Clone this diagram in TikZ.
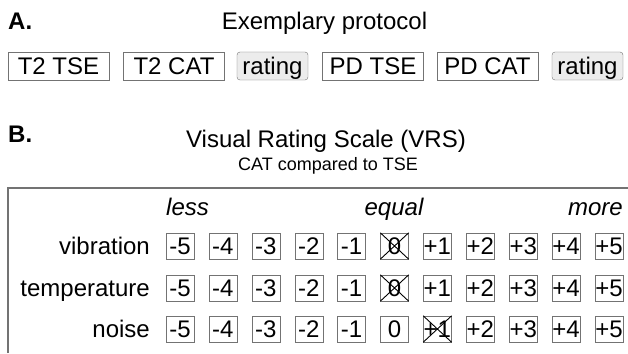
\documentclass[tikz,border=0pt]{standalone}
\usepackage{fontspec}
\setmainfont{Liberation Sans}
\usepackage{xcolor}

\begin{document}
\begin{tikzpicture}[
    x=1pt, y=-1pt,
    txt/.style={
        inner sep=0pt,
        font=\fontsize{24}{28}\selectfont
    },
    scan/.style={
        rectangle,
        draw=black!55,
        fill=white,
        minimum width=101pt,
        minimum height=28pt,
        inner sep=0pt,
        text height=17pt,
        text depth=0pt,
        font=\fontsize{24}{28}\selectfont
    },
    rating/.style={scan, fill=gray!15, rounded corners=3pt, minimum width=71pt},
    score/.style={
        rectangle,
        draw=black!55,
        minimum width=28pt,
        minimum height=26pt,
        inner sep=0pt,
        text height=17pt,
        text depth=0pt,
        font=\fontsize{24}{28}\selectfont
    },
    cross/.style={draw=black, line width=0.9pt}
]
\useasboundingbox (0,0) rectangle (628,353);

% A. protocol
\node[txt, anchor=base west, font=\fontsize{24}{28}\selectfont\bfseries] (parta) at (8,30) {A.};
\node[txt, anchor=base] (protocol) at (324.5,30) {Exemplary protocol};

\node[scan] (t2tse) at (58.5,66) {T2 TSE};
\node[scan] (t2cat) at (174,66) {T2 CAT};
\node[rating] (rate1) at (272.5,66) {rating};
\node[scan] (pdtse) at (373,66) {PD TSE};
\node[scan] (pdcat) at (487.5,66) {PD CAT};
\node[rating] (rate2) at (587.5,66) {rating};

% B. rating scale
\node[txt, anchor=base west, font=\fontsize{24}{28}\selectfont\bfseries] (partb) at (8,142) {B.};
\node[txt, anchor=base] (vrs) at (326,147) {Visual Rating Scale (VRS)};
\node[txt, anchor=base, font=\fontsize{18}{22}\selectfont] (vrssub) at (328,170) {CAT compared to TSE};

\draw[black!55, line width=1.5pt] (8,353) -- (8,188) -- (628,188);

\node[txt, anchor=base west, font=\fontsize{24}{28}\selectfont\itshape] (less) at (166,215) {less};
\node[txt, anchor=base, font=\fontsize{24}{28}\selectfont\itshape] (equal) at (394,215) {equal};
\node[txt, anchor=base east, font=\fontsize{24}{28}\selectfont\itshape] (more) at (623,215) {more};

\node[txt, anchor=base east] (vibration) at (150,254.6) {vibration};
\node[txt, anchor=base east] (temperature) at (150,296.6) {temperature};
\node[txt, anchor=base east] (noise) at (150,337.6) {noise};

\foreach \v [count=\i from 0] in {-5,-4,-3,-2,-1,0,+1,+2,+3,+4,+5} {
    \node[score] (vib\i) at (180+42.9*\i,246) {\v};
    \node[score] (tem\i) at (180+42.9*\i,288) {\v};
    \node[score] (noi\i) at (180+42.9*\i,329) {\v};
}

\draw[cross] (vib5.north west) -- (vib5.south east) (vib5.north east) -- (vib5.south west);
\draw[cross] (tem5.north west) -- (tem5.south east) (tem5.north east) -- (tem5.south west);
\draw[cross] (noi6.north west) -- (noi6.south east) (noi6.north east) -- (noi6.south west);

\end{tikzpicture}
\end{document}
